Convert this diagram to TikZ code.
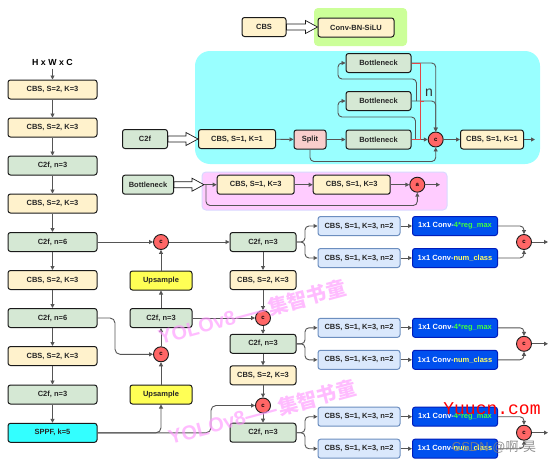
\documentclass[tikz,border=0pt]{standalone}
\usepackage{fontspec}
\setmainfont{Liberation Sans}
\newfontfamily\cjk{Noto Sans CJK SC}
\newfontfamily\monof{Liberation Mono}
\usetikzlibrary{arrows.meta,calc}
\definecolor{cbsfill}{HTML}{FFF2CC}
\definecolor{c2ffill}{HTML}{D5E8D4}
\definecolor{splitfill}{HTML}{F8CECC}
\definecolor{upfill}{HTML}{FFFF55}
\definecolor{sppffill}{HTML}{33FFFF}
\definecolor{cfill}{HTML}{FF6666}
\definecolor{headfill}{HTML}{DAE8FC}
\definecolor{headdraw}{HTML}{6C8EBF}
\definecolor{bluefill}{HTML}{0050EF}
\definecolor{bluedraw}{HTML}{001DBC}
\definecolor{greentxt}{HTML}{40FF40}
\definecolor{yellowtxt}{HTML}{FFFF66}
\definecolor{cyanreg}{HTML}{99FFFF}
\definecolor{pinkreg}{HTML}{FFCCFF}
\definecolor{pinkregdraw}{HTML}{D9D9FF}
\definecolor{greenreg}{HTML}{CCFF99}
\definecolor{boxdraw}{HTML}{1A1A1A}
\definecolor{linegray}{HTML}{555555}
\definecolor{bracketred}{HTML}{E04848}
\definecolor{wmpink}{HTML}{FF99FF}
\newcommand{\hollowarr}[2]{%
  \draw[fill=white, draw=boxdraw, line width=0.7pt] let \p1=(#1), \p2=(#2) in
  (\x1,\y1+3pt) -- (\x2-12pt,\y1+3pt) -- (\x2-12pt,\y1+6.5pt) -- (\x2,\y1)
  -- (\x2-12pt,\y1-6.5pt) -- (\x2-12pt,\y1-3pt) -- (\x1,\y1-3pt) -- cycle;}
\tikzset{
  box/.style={draw=boxdraw, line width=1pt, rounded corners=2.5pt, minimum height=19pt,
    inner sep=1pt, font=\fontsize{7.5}{8}\selectfont\bfseries, text=black!85},
  cbs/.style={box, fill=cbsfill},
  ctwof/.style={box, fill=c2ffill},
  splitbox/.style={box, fill=splitfill},
  upbox/.style={box, fill=upfill},
  sppfbox/.style={box, fill=sppffill},
  headbox/.style={box, draw=headdraw, fill=headfill, minimum width=82pt},
  bluebox/.style={box, draw=bluedraw, fill=bluefill, text=white, minimum width=85pt},
  cat/.style={circle, draw=boxdraw, line width=0.9pt, fill=cfill, minimum size=15pt,
    inner sep=0pt, font=\fontsize{6}{6}\selectfont\bfseries},
  arr/.style={draw=linegray, line width=0.9pt, -{Triangle[length=4pt,width=4pt]}},
  ln/.style={draw=linegray, line width=0.9pt},
  lcol/.style={minimum width=89pt},
}
\begin{document}
\begin{tikzpicture}[x=1pt,y=-1pt]
\fill[white] (0,0) rectangle (554,463);
\useasboundingbox (0,0) rectangle (554,463);
% regions
\fill[greenreg, rounded corners=4pt] (314,8) rectangle (407,46);
\fill[cyanreg, rounded corners=15pt] (195,51) rectangle (540,164);
\filldraw[fill=pinkreg, draw=pinkregdraw, line width=1pt, rounded corners=4pt] (202,172) rectangle (447,210);

% ---------- left backbone ----------
\node[font=\fontsize{8.8}{9}\selectfont\bfseries] (hwc) at (52.5,62) {H x W x C};
\node[cbs, lcol] (L1) at (52.5,89.5) {CBS, S=2, K=3};
\node[cbs, lcol] (L2) at (52.5,127.5) {CBS, S=2, K=3};
\node[ctwof, lcol] (L3) at (52.5,165.5) {C2f, n=3};
\node[cbs, lcol] (L4) at (52.5,203.5) {CBS, S=2, K=3};
\node[ctwof, lcol] (L5) at (52.5,242) {C2f, n=6};
\node[cbs, lcol] (L6) at (52.5,280) {CBS, S=2, K=3};
\node[ctwof, lcol] (L7) at (52.5,318) {C2f, n=6};
\node[cbs, lcol] (L8) at (52.5,356) {CBS, S=2, K=3};
\node[ctwof, lcol] (L9) at (52.5,394.5) {C2f, n=3};
\node[sppfbox, lcol] (L10) at (52.5,432.8) {SPPF, k=5};
\draw[arr] (hwc) -- (L1);
\foreach \a/\b in {L1/L2,L2/L3,L3/L4,L4/L5,L5/L6,L6/L7,L7/L8,L8/L9,L9/L10}
  \draw[arr] (\a) -- (\b);

% ---------- neck column 2 ----------
\node[cat] (c1) at (161,242) {c};
\node[upbox, minimum width=62pt] (up1) at (161,280.5) {Upsample};
\node[ctwof, minimum width=62pt] (m1) at (161,318) {C2f, n=3};
\node[cat] (c2) at (161,354.3) {c};
\node[upbox, minimum width=62pt] (up2) at (161,394.5) {Upsample};
\draw[arr] (L5) -- (c1);
\draw[arr] (up1) -- (c1);
\draw[arr] (m1) -- (up1);
\draw[arr] (c2) -- (m1);
\draw[arr] (up2) -- (c2);
\draw[arr, rounded corners=5pt] (L7.east) -- (115,318) |- (c2.west);
\draw[arr, rounded corners=5pt] (L10.east) -| (up2.south);

% ---------- neck column 3 ----------
\node[ctwof, minimum width=66pt] (r1) at (263,242) {C2f, n=3};
\node[cbs, minimum width=66pt] (r2) at (263,280) {CBS, S=2, K=3};
\node[cat] (c3) at (263,318) {c};
\node[ctwof, minimum width=66pt] (r3) at (263,343.8) {C2f, n=3};
\node[cbs, minimum width=66pt] (r4) at (263,375.3) {CBS, S=2, K=3};
\node[cat] (c4) at (263,405.5) {c};
\node[ctwof, minimum width=66pt] (r5) at (263,432.7) {C2f, n=3};
\draw[arr] (c1) -- (r1);
\draw[arr] (m1) -- (c3);
\foreach \a/\b in {r1/r2,r2/c3,c3/r3,r3/r4,r4/c4,c4/r5}
  \draw[arr] (\a) -- (\b);
\draw[arr, rounded corners=5pt] (L10.east) -- (211,432.8) |- (c4.west);

% ---------- heads ----------
\foreach \r/\Y/\k in {r1/242/1,r3/343.8/2,r5/432.7/3}{
  \node[headbox] (ha\k) at (359,\Y-16) {CBS, S=1, K=3, n=2};
  \node[headbox] (hb\k) at (359,\Y+16) {CBS, S=1, K=3, n=2};
  \node[bluebox] (ba\k) at (455,\Y-16) {1x1 Conv-\textcolor{greentxt}{4*reg\_max}};
  \node[bluebox] (bb\k) at (455,\Y+16) {1x1 Conv-\textcolor{yellowtxt}{num\_class}};
  \node[cat] (hc\k) at (524,\Y) {c};
  \coordinate (ho\k) at (548,\Y);
  \draw[arr, rounded corners=4pt] (\r.east) -- (305,\Y) |- (ha\k.west);
  \draw[arr, rounded corners=4pt] (\r.east) -- (305,\Y) |- (hb\k.west);
  \draw[arr] (ha\k) -- (ba\k);
  \draw[arr] (hb\k) -- (bb\k);
  \draw[arr, rounded corners=4pt] (ba\k.east) -| (hc\k.north);
  \draw[arr, rounded corners=4pt] (bb\k.east) -| (hc\k.south);
  \draw[arr] (hc\k) -- (ho\k);
}

% ---------- CBS legend ----------
\node[cbs, minimum width=44pt] (cbsT) at (264,27) {CBS};
\node[cbs, minimum width=76pt] (cbnT) at (356,27.5) {Conv-BN-SiLU};
\hollowarr{cbsT.east}{cbnT.west}

% ---------- C2f legend ----------
\node[ctwof, minimum width=45pt] (c2fT) at (145,139) {C2f};
\node[cbs, minimum width=77pt] (cbs1) at (237,139) {CBS, S=1, K=1};
\node[splitbox, minimum width=32pt] (split) at (310,139.5) {Split};
\node[ctwof, minimum width=65pt] (bn1) at (378.5,63) {Bottleneck};
\node[ctwof, minimum width=65pt] (bn2) at (378.5,101) {Bottleneck};
\node[ctwof, minimum width=65pt] (bn3) at (378.5,139.5) {Bottleneck};
\node[cat] (cc) at (435.7,139.5) {c};
\node[cbs, minimum width=63pt] (cbs2) at (492,139.5) {CBS, S=1, K=1};
\coordinate (cout) at (535,139.5);
\hollowarr{c2fT.east}{cbs1.west}
\draw[arr] (cbs1) -- (split);
\draw[arr] (split) -- (bn3);
\draw[arr] (bn3) -- (cc);
\draw[arr] (cc) -- (cbs2);
\draw[arr] (cbs2) -- (cout);
\draw[arr, rounded corners=4pt] ($(bn3.east)+(4,0)$) |- (338,117) |- (bn2.west);
\draw[arr, rounded corners=4pt] ($(bn2.east)+(5,0)$) |- (338,79) |- (bn1.west);
\draw[arr, rounded corners=4pt] (bn2.east) -| (cc.north);
\draw[arr, rounded corners=4pt] (bn1.east) -| (cc.north);
\draw[arr, rounded corners=4pt] (split.south) -- (310,161.5) -| (cc.south);
\draw[bracketred, line width=0.9pt] (bn1.east) -- (420,63) -- (420,139.5) -- (bn3.east);
\draw[bracketred, line width=0.9pt] (420,101) -- (424,101);
\node[text=black!80, font=\fontsize{14}{14}\selectfont] (nlab) at (429,93) {n};

% ---------- Bottleneck legend ----------
\node[ctwof, minimum width=51pt] (bnP) at (148,184.7) {Bottleneck};
\coordinate (pin) at (204,184.7);
\node[cbs, minimum width=77pt] (pc1) at (255.7,184.7) {CBS, S=1, K=3};
\node[cbs, minimum width=77pt] (pc2) at (351.7,184.7) {CBS, S=1, K=3};
\node[cat] (pa) at (417.3,184.7) {a};
\coordinate (pout) at (440,184.7);
\hollowarr{bnP.east}{pin}
\draw[arr] (pin) -- (pc1);
\draw[arr] (pc1) -- (pc2);
\draw[arr] (pc2) -- (pa);
\draw[arr] (pa) -- (pout);
\draw[arr, rounded corners=4pt] ($(pin)+(2,0)$) -- (206,205.5) -| (pa.south);

% ---------- watermarks ----------
\node[rotate=15, text=wmpink, opacity=0.65, font=\fontsize{20}{20}\selectfont\bfseries] (wm1) at (252,312) {YOLOv8{\cjk ——集智书童}};
\node[rotate=15, text=wmpink, opacity=0.65, font=\fontsize{20}{20}\selectfont\bfseries] (wm2) at (262,412) {YOLOv8{\cjk ——集智书童}};
\node[text=red, font=\monof\fontsize{18}{18}\selectfont] (wm3) at (492,409) {Yuucn.com};
\node[text=gray, opacity=0.85, font=\fontsize{13}{13}\selectfont] (wm4) at (494,447) {CSDN @{\cjk 啊-昊}};
\end{tikzpicture}
\end{document}
